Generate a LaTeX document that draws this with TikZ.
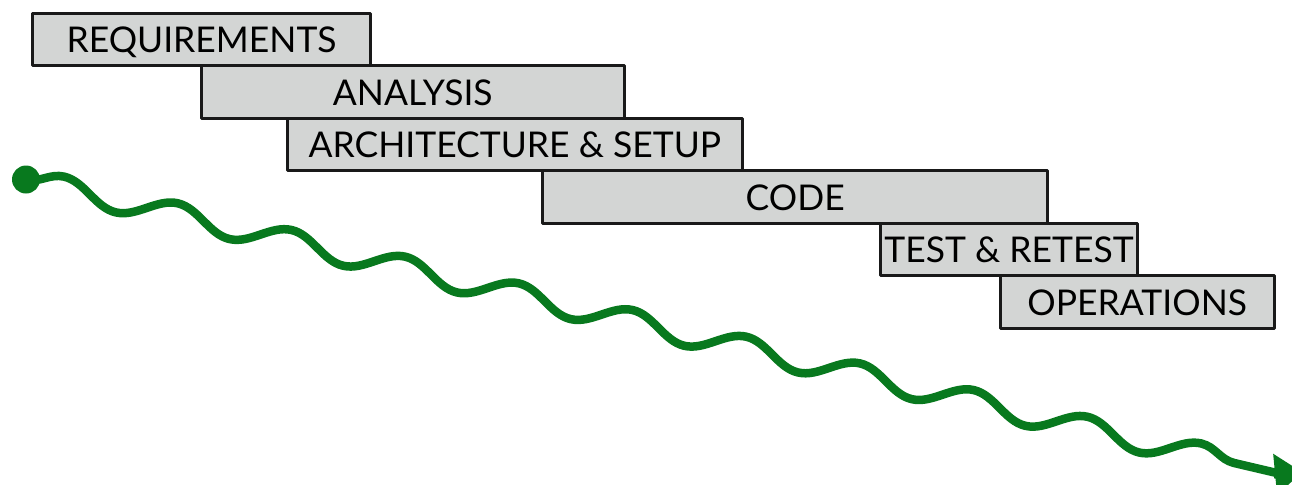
\documentclass[tikz,border=0pt]{standalone}
\usepackage{fontspec}
\setmainfont{Lato}
\usetikzlibrary{arrows.meta,decorations.pathmorphing}
\definecolor{barfill}{RGB}{211,213,212}
\definecolor{wavegreen}{RGB}{8,121,30}
\begin{document}
\begin{tikzpicture}[>=latex,line join=bevel,
  phase/.style={draw=black!90,line width=3bp,fill=barfill,rectangle,inner sep=0pt,
    minimum height=52.6bp,text height=26bp,text depth=0pt,
    font=\fontsize{35.6}{38}\selectfont},
  wave/.style={draw=wavegreen,line width=8.5bp,line cap=round,
    decorate,decoration={snake,amplitude=11.5bp,segment length=116.8bp}},
  ]
%%
\useasboundingbox (0bp,0bp) rectangle (1292bp,-485bp);
\node (requirements) at (201.5bp,-39.5bp) [phase,minimum width=338.4bp] {REQUIREMENTS};
  \node (analysis) at (412.8bp,-92bp) [phase,minimum width=423bp] {ANALYSIS};
  \node (architecture) at (514.8bp,-144.5bp) [phase,minimum width=455bp] {ARCHITECTURE \& SETUP};
  \node (code) at (795.2bp,-197bp) [phase,minimum width=505bp] {CODE};
  \node (test) at (1009bp,-249.5bp) [phase,minimum width=256.6bp] {TEST \& RETEST};
  \node (operations) at (1137.2bp,-302bp) [phase,minimum width=274.3bp] {OPERATIONS};
%
\node (start) at (26bp,-179.5bp) [circle,fill=wavegreen,inner sep=0pt,minimum size=28bp] {};
  \coordinate (finish) at (1281bp,-474bp);
  \draw [wave] (start.center) -- (finish);
  \draw [wavegreen,-{Triangle[length=27bp,width=40bp]},line width=8.5bp] (1274bp,-474.5bp) -- (finish) -- (1302bp,-472bp);
%
\end{tikzpicture}
\end{document}
